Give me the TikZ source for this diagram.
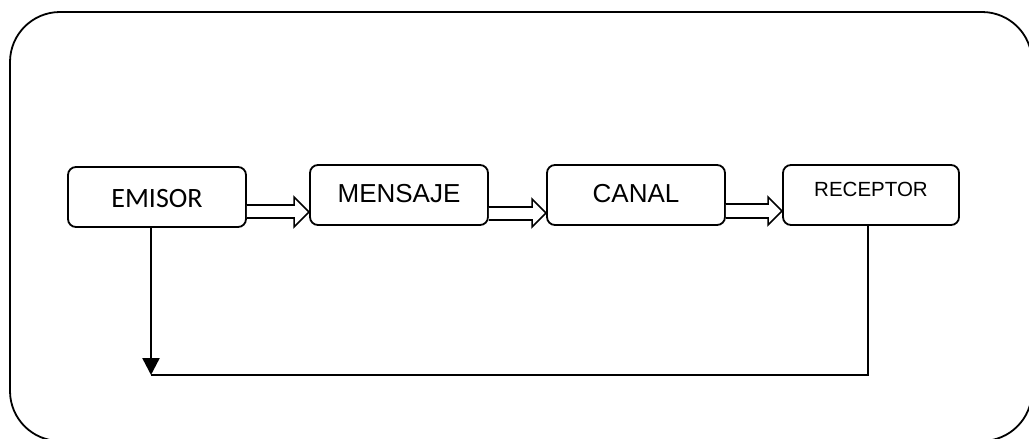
\documentclass[tikz,border=0pt]{standalone}
\usepackage{fontspec}
\setmainfont{Liberation Sans}
\newfontfamily\calfont{Carlito}
\usetikzlibrary{calc,arrows.meta}
\tikzset{
  box/.style={draw, line width=1.8pt, rounded corners=8pt, minimum height=60pt, inner sep=0pt, fill=white},
  blk/.style={draw, line width=1.6pt, fill=white, line join=miter},
  fb/.style={draw, line width=1.4pt},
}
\begin{document}
\begin{tikzpicture}[x=1pt,y=-1pt]
\useasboundingbox (0,0) rectangle (1029,439);
\draw[line width=1.8pt, rounded corners=50pt] (10,12) rectangle (1032,441);

\node[box, minimum width=178pt, font=\calfont\fontsize{28}{32}\selectfont, text height=21pt, text depth=0pt] (e) at (157,197) {EMISOR};
\node[box, minimum width=178pt, font=\fontsize{26}{30}\selectfont, text height=18pt, text depth=4pt] (m) at (399,195) {MENSAJE};
\node[box, minimum width=178pt, font=\fontsize{26}{30}\selectfont, text height=18pt, text depth=4pt] (c) at (636,195) {CANAL};
\node[box, minimum width=176pt, font=\fontsize{20.5}{24}\selectfont, text height=14pt, text depth=12pt] (r) at (871,195) {RECEPTOR};

% block arrows
\draw[blk] (e.east |- 0,205) -- ($(m.west |- 0,205)+(-15,0)$) -- ($(m.west |- 0,197)+(-15,0)$)
  -- (m.west |- 0,212) -- ($(m.west |- 0,227)+(-15,0)$) -- ($(m.west |- 0,218)+(-15,0)$) -- (e.east |- 0,218);
\draw[blk] (m.east |- 0,207) -- ($(c.west |- 0,207)+(-14,0)$) -- ($(c.west |- 0,199)+(-14,0)$)
  -- (c.west |- 0,213) -- ($(c.west |- 0,227)+(-14,0)$) -- ($(c.west |- 0,220)+(-14,0)$) -- (m.east |- 0,220);
\draw[blk] (c.east |- 0,204) -- ($(r.west |- 0,204)+(-14,0)$) -- ($(r.west |- 0,197)+(-14,0)$)
  -- (r.west |- 0,211) -- ($(r.west |- 0,225)+(-14,0)$) -- ($(r.west |- 0,218)+(-14,0)$) -- (c.east |- 0,218);

% feedback
\coordinate (fb) at (151,375);
\draw[line width=2.4pt, -{Triangle[width=17pt 0,length=17pt 0]}] ($(e.south)+(-6,0)$) -- (fb);
\draw[fb] ($(r.south)+(-3,0)$) |- (fb);
\end{tikzpicture}
\end{document}
